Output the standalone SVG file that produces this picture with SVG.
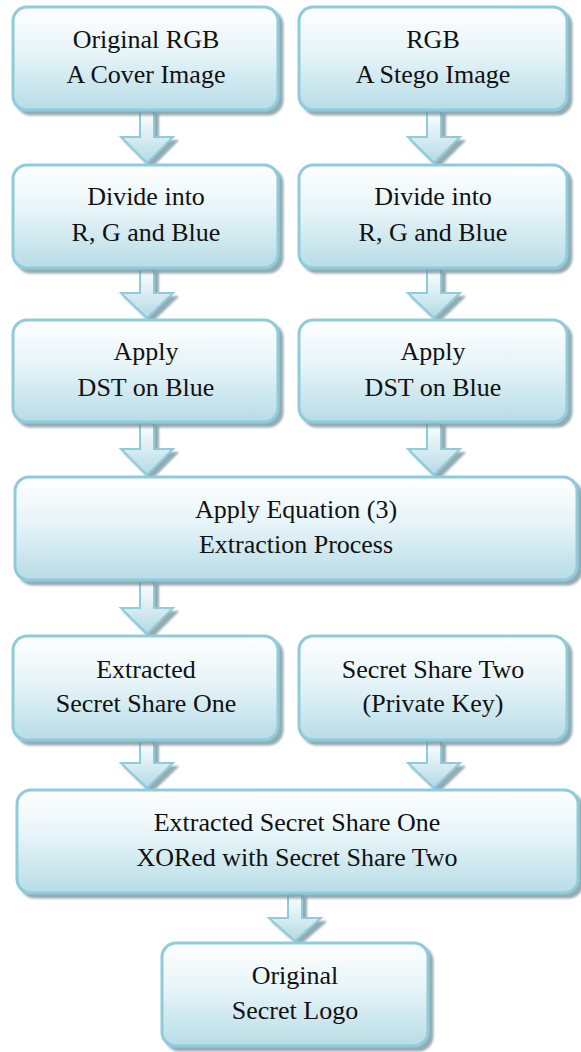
<svg xmlns="http://www.w3.org/2000/svg" width="581" height="1052" viewBox="0 0 581 1052">
<style>
.box{fill:url(#boxGrad);stroke:#8ecbdb;stroke-width:3;filter:url(#shadow)}
.arrow{fill:url(#arrGrad);stroke:#8ecbdb;stroke-width:2;stroke-linejoin:miter;filter:url(#shadow)}
.t{font-family:'Liberation Serif','Times New Roman',Times,'Nimbus Roman','Nimbus Roman No9 L','Noto Serif','FreeSerif','DejaVu Serif',serif;font-size:26px;fill:#111;text-anchor:middle}
</style>
<defs>
<linearGradient id="boxGrad" x1="0" y1="0" x2="0" y2="1">
<stop offset="0" stop-color="#ffffff"/>
<stop offset="0.45" stop-color="#e6f4f8"/>
<stop offset="1" stop-color="#b7dce6"/>
</linearGradient>
<linearGradient id="arrGrad" x1="0" y1="0" x2="0" y2="1">
<stop offset="0" stop-color="#ffffff"/>
<stop offset="1" stop-color="#b2dae5"/>
</linearGradient>
<filter id="shadow" x="-10%" y="-10%" width="120%" height="130%">
<feDropShadow dx="4" dy="4" stdDeviation="1" flood-color="#6f8f98" flood-opacity="0.75"/>
</filter>
</defs>
<g id="connectors">
<path class="arrow" d="M140,111 L154,111 L154,137 L173,137 L147,163 L121,137 L140,137 Z"/>
<path class="arrow" d="M427,111 L441,111 L441,137 L460,137 L434,163 L408,137 L427,137 Z"/>
<path class="arrow" d="M140,269 L154,269 L154,293 L173,293 L147,318 L121,293 L140,293 Z"/>
<path class="arrow" d="M427,269 L441,269 L441,293 L460,293 L434,318 L408,293 L427,293 Z"/>
<path class="arrow" d="M140,423 L154,423 L154,449 L173,449 L147,475 L121,449 L140,449 Z"/>
<path class="arrow" d="M427,423 L441,423 L441,449 L460,449 L434,475 L408,449 L427,449 Z"/>
<path class="arrow" d="M140,581 L154,581 L154,608 L173,608 L147,634 L121,608 L140,608 Z"/>
<path class="arrow" d="M140,741 L154,741 L154,763 L173,763 L147,788 L121,763 L140,763 Z"/>
<path class="arrow" d="M427,741 L441,741 L441,763 L460,763 L434,788 L408,763 L427,763 Z"/>
<path class="arrow" d="M288,894 L302,894 L302,918 L321,918 L295,941 L269,918 L288,918 Z"/>
</g>
<g id="n1"><rect class="box" x="13" y="7" width="265" height="103" rx="14"/><text class="t" x="146" y="48">Original RGB</text><text class="t" x="146" y="83">A Cover Image</text></g>
<g id="n2"><rect class="box" x="299" y="7" width="268" height="103" rx="14"/><text class="t" x="433" y="48">RGB</text><text class="t" x="433" y="83">A Stego Image</text></g>
<g id="n3"><rect class="box" x="13" y="165" width="265" height="103" rx="14"/><text class="t" x="146" y="205">Divide into</text><text class="t" x="146" y="241">R, G and Blue</text></g>
<g id="n4"><rect class="box" x="299" y="165" width="268" height="103" rx="14"/><text class="t" x="433" y="205">Divide into</text><text class="t" x="433" y="241">R, G and Blue</text></g>
<g id="n5"><rect class="box" x="13" y="320" width="265" height="102" rx="14"/><text class="t" x="146" y="360">Apply</text><text class="t" x="146" y="396">DST on Blue</text></g>
<g id="n6"><rect class="box" x="299" y="320" width="268" height="102" rx="14"/><text class="t" x="433" y="360">Apply</text><text class="t" x="433" y="396">DST on Blue</text></g>
<g id="n7"><rect class="box" x="15" y="477" width="562" height="103" rx="14"/><text class="t" x="296" y="518">Apply Equation (3)</text><text class="t" x="296" y="553">Extraction Process</text></g>
<g id="n8"><rect class="box" x="13" y="636" width="265" height="104" rx="14"/><text class="t" x="146" y="678">Extracted</text><text class="t" x="146" y="712">Secret Share One</text></g>
<g id="n9"><rect class="box" x="299" y="636" width="268" height="104" rx="14"/><text class="t" x="433" y="678">Secret Share Two</text><text class="t" x="433" y="712">(Private Key)</text></g>
<g id="n10"><rect class="box" x="17" y="790" width="561" height="103" rx="14"/><text class="t" x="297" y="831">Extracted Secret Share One</text><text class="t" x="297" y="866">XORed with Secret Share Two</text></g>
<g id="n11"><rect class="box" x="162" y="943" width="266" height="103" rx="14"/><text class="t" x="295" y="984">Original</text><text class="t" x="295" y="1019">Secret Logo</text></g>
</svg>
